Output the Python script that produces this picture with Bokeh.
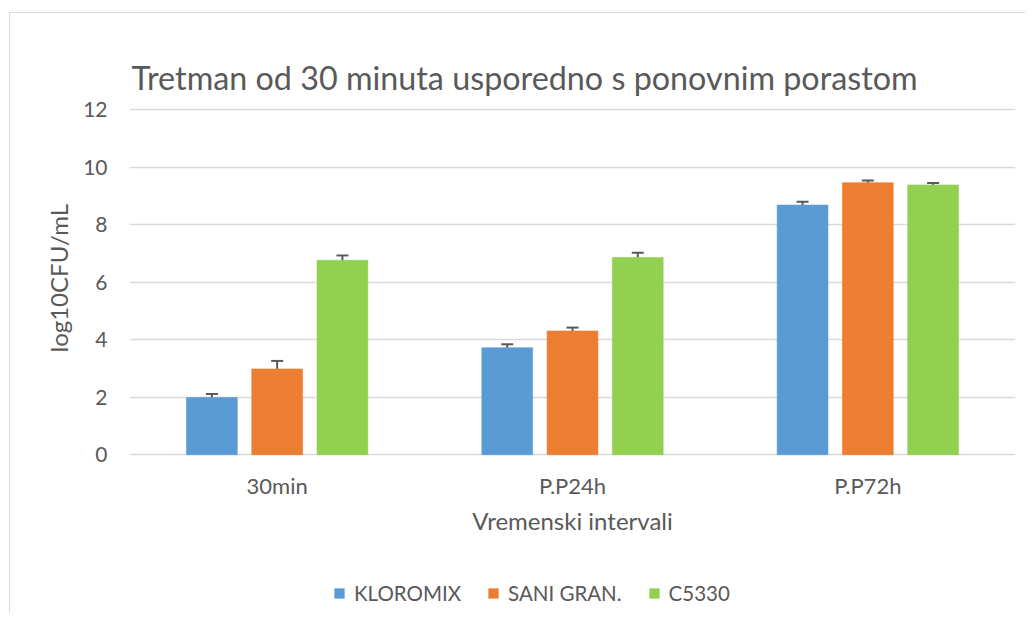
from bokeh.plotting import figure
from bokeh.models import (ColumnDataSource, Whisker, TeeHead, Legend, LegendItem,
                          Range1d, FactorRange, Title, FixedTicker)
from bokeh.transform import dodge
from bokeh.embed import file_html
from bokeh.resources import INLINE

categories = ["30min", "P.P24h", "P.P72h"]
series_names = ["KLOROMIX", "SANI GRAN.", "C5330"]
kloromix = [1.99, 3.72, 8.68]
kloromix_err = [0.12, 0.12, 0.12]
sani = [2.98, 4.30, 9.46]
sani_err = [0.28, 0.12, 0.08]
c5330 = [6.76, 6.86, 9.38]
c5330_err = [0.17, 0.16, 0.07]
y_ticks = [0, 2, 4, 6, 8, 10, 12]
colors = ["#5B9BD5", "#ED7D31", "#92D050"]

FONT = "Lato"
TXT = "#595959"

# frame extends below zero so the legend can sit inside it
p = figure(frame_width=886, frame_height=504, x_range=FactorRange(*categories, range_padding=0),
           y_range=Range1d(-5.49, 12.04), output_backend="svg", toolbar_location=None,
           min_border_left=119, min_border_right=10, min_border_top=95, min_border_bottom=0,
           styles={"border-left": "1px solid #d9d9d9", "border-top": "1px solid #d9d9d9",
                   "margin-left": "9px", "margin-top": "12px"})
p.outline_line_color = None
p.xgrid.grid_line_color = None
ticker = FixedTicker(ticks=y_ticks)
p.yaxis.ticker = ticker
p.ygrid.ticker = ticker
p.ygrid.grid_line_color = "#d9d9d9"
p.ygrid.grid_line_width = 1.5

p.title.visible = False
title = Title(text="Tretman od 30 minuta usporedno s ponovnim porastom", align="left",
              offset=2, standoff=24, text_font=FONT, text_font_size="32.3px",
              text_color=TXT, text_font_style="normal")
p.add_layout(title, "above")
spacer = Title(text=".", text_alpha=0, text_font_size="2px", standoff=18)
p.add_layout(spacer, "above")

series = [(kloromix, kloromix_err), (sani, sani_err), (c5330, c5330_err)]
offsets = [-0.221, 0.0, 0.221]
items = []
for i, ((vals, errs), name) in enumerate(zip(series, series_names)):
    src = ColumnDataSource(dict(cat=categories, top=vals,
                                upper=[v + e for v, e in zip(vals, errs)],
                                lower=[v - e for v, e in zip(vals, errs)]))
    r = p.vbar(x=dodge("cat", offsets[i], range=p.x_range), top="top", bottom=0, width=0.172,
               source=src, fill_color=colors[i], line_color=colors[i], line_alpha=0.6)
    w = Whisker(base=dodge("cat", offsets[i], range=p.x_range), upper="upper", lower="lower",
                source=src, line_color="#595959", line_width=2,
                upper_head=TeeHead(size=12, line_color="#595959", line_width=2),
                lower_head=TeeHead(size=12, line_color="#595959", line_width=2))
    p.add_layout(w)
    items.append(LegendItem(label=name, renderers=[r]))

for ax in (p.xaxis[0], p.yaxis[0]):
    ax.axis_line_color = None
    ax.major_tick_line_color = None
    ax.minor_tick_line_color = None
    ax.major_label_text_font = FONT
    ax.major_label_text_color = TXT
    ax.axis_label_text_font = FONT
    ax.axis_label_text_font_size = "24px"
    ax.axis_label_text_color = TXT
    ax.axis_label_text_font_style = "normal"
p.xaxis.fixed_location = 0
p.xaxis.major_label_text_font_size = "22px"
p.yaxis.major_label_text_font_size = "21px"
p.xaxis.axis_label = "Vremenski intervali"
p.xaxis.major_label_standoff = 11
p.yaxis.major_label_standoff = 16
p.xaxis.axis_label_standoff = 4

ytitle = Title(text="log10CFU/mL", align="left", offset=260, standoff=15,
               text_font=FONT, text_font_size="24px", text_color=TXT,
               text_font_style="normal")
p.add_layout(ytitle, "left")

legend = Legend(items=items, orientation="horizontal", location=(204, 7),
                label_text_font=FONT, label_text_font_size="20.5px", label_text_color=TXT,
                glyph_width=12, glyph_height=12, label_standoff=9, spacing=26,
                border_line_color=None, background_fill_alpha=0, margin=0, padding=0)
p.add_layout(legend, "center")

open("out.html", "w").write(file_html(p, INLINE))
